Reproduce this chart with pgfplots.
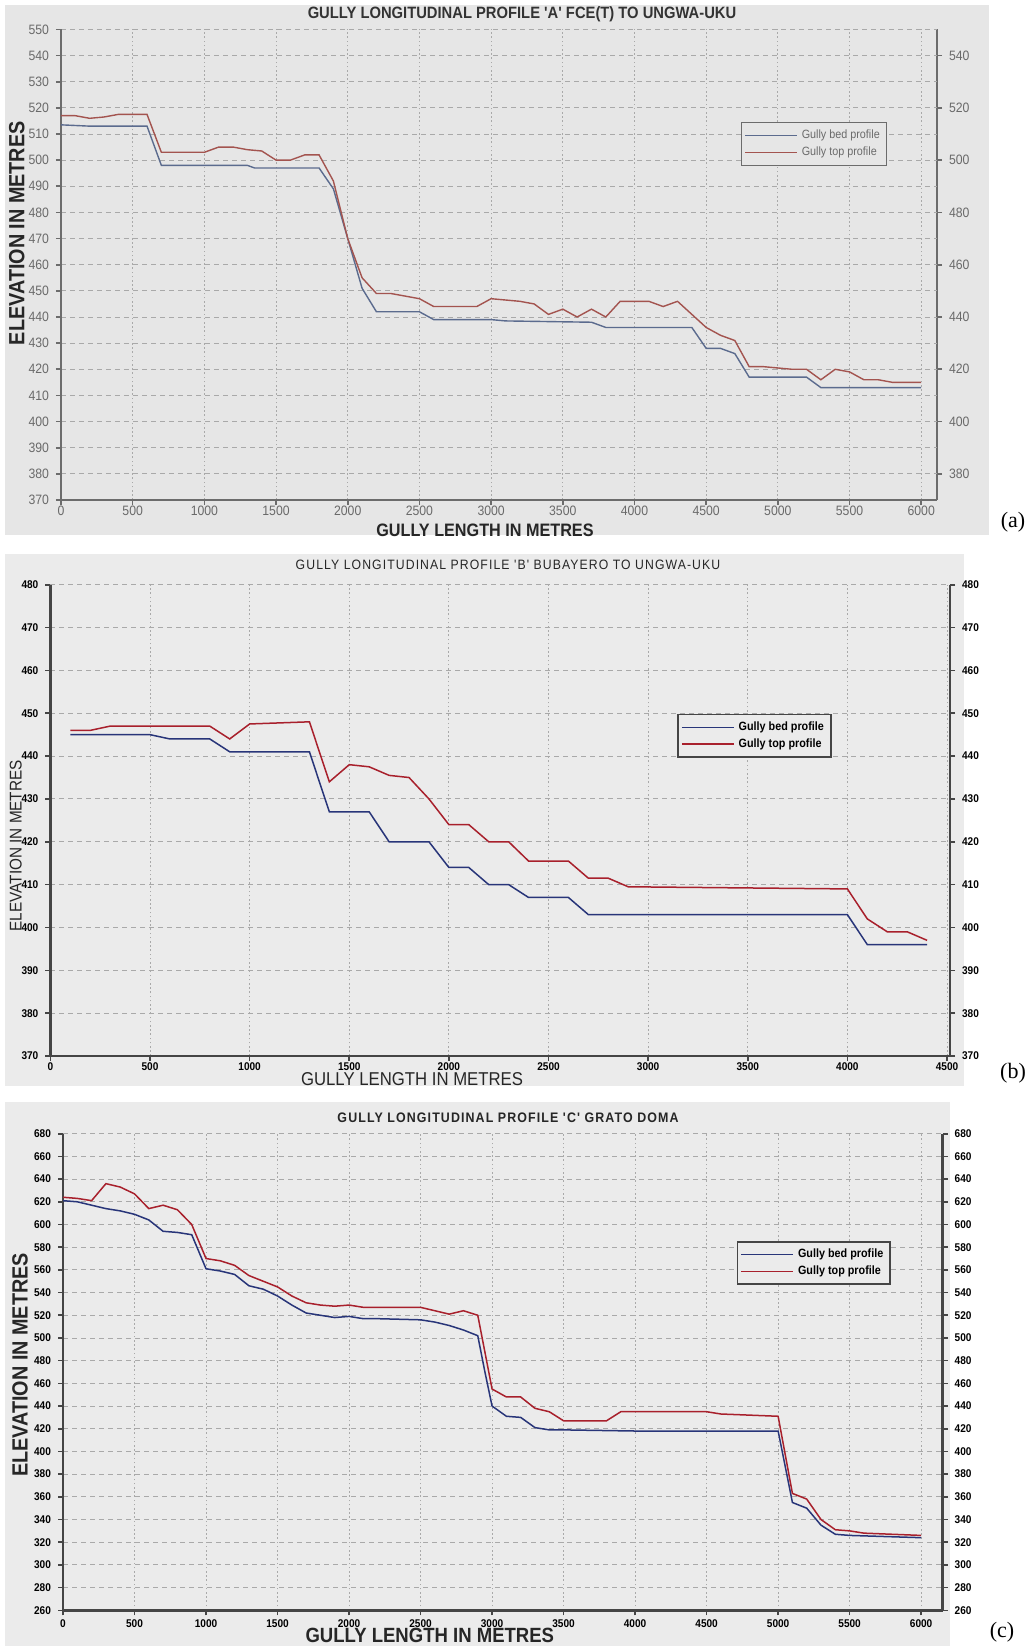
\documentclass[border=0pt]{standalone}
\usepackage{fontspec}
\usepackage{pgfplots}
\pgfplotsset{compat=1.18}
\newfontfamily\nar[FakeStretch=0.9]{Liberation Sans}
\newfontfamily\spaced[LetterSpace=8,FakeStretch=0.9]{Liberation Sans}
\newfontfamily\serif{Liberation Serif}
\definecolor{bga}{HTML}{E6E6E6}
\definecolor{bgb}{HTML}{EBEBEB}
\definecolor{gridc}{HTML}{A9A9A9}
\definecolor{bedA}{HTML}{5B6B8E}
\definecolor{topA}{HTML}{A3544F}
\definecolor{bedB}{HTML}{283579}
\definecolor{topB}{HTML}{A8202C}
\definecolor{axA}{HTML}{6C6C6C}
\definecolor{axB}{HTML}{454545}
\definecolor{txtA}{HTML}{6A6A6A}
\pgfplotsset{
  common/.style={scale only axis, anchor=north west, tick align=outside,
    major tick length=2.5pt,
    /pgf/number format/assume math mode=true,
    /pgf/number format/1000 sep={},
    axis x line*=bottom},
  rightax/.style={common, axis y line*=right, xticklabels={}, xtick style={draw=none},
    xmajorgrids, grid style={gridc, line width=0.45pt, dash pattern=on 0.8pt off 1.3pt}},
  mainax/.style={common, axis y line*=left, ymajorgrids,
    grid style={gridc, line width=0.45pt, dash pattern=on 2.5pt off 2pt},
    legend cell align=left,
    legend image code/.code={\draw[##1] (0pt,0pt) -- (26pt,0pt);}},
  styA/.style={axis line style={axA, line width=1pt}, tick style={axA, line width=0.8pt},
    tick label style={font=\nar\fontsize{6.8}{7}\selectfont, text=txtA},
    xticklabel style={yshift=3pt}},
  styB/.style={axis line style={axB, line width=1.4pt}, tick style={axB, line width=0.8pt},
    tick label style={font=\nar\bfseries\fontsize{5.6}{6}\selectfont, text=black}},
}
\begin{document}
\begin{tikzpicture}
\path[use as bounding box] (0,0) rectangle (517.5pt,-823pt);
\fill[bga] (2.5pt,-2.5pt) rectangle (494.5pt,-267.5pt);
\fill[bgb] (2.5pt,-277pt) rectangle (482pt,-543pt);
\fill[bgb] (2.5pt,-551pt) rectangle (475pt,-823pt);

% ---------------- Panel A ----------------
\begin{axis}[rightax, styA, at={(30.5pt,-14.7pt)}, width=438pt, height=235.3pt,
  xmin=0, xmax=6110, ymin=370, ymax=550,
  xtick={0,500,...,6000}, ytick={380,400,...,540}]
\end{axis}
\begin{axis}[mainax, styA, at={(30.5pt,-14.7pt)}, width=438pt, height=235.3pt,
  xmin=0, xmax=6110, ymin=370, ymax=550,
  xtick={0,500,...,6000}, ytick={370,380,...,550},
  xlabel={GULLY LENGTH IN METRES}, ylabel={ELEVATION IN METRES},
  xlabel style={at={(axis description cs:0.484,-0.064)}, anchor=center,
    font=\nar\bfseries\fontsize{9}{10}\selectfont, text=black!85},
  ylabel style={at={(axis description cs:-0.0505,0.567)}, anchor=center,
    font=\nar\bfseries\fontsize{11}{12}\selectfont, text=black!85},
  legend style={at={(0.776,0.803)}, anchor=north west, draw=axA, line width=0.6pt,
    fill=bga, font=\nar\fontsize{6}{7}\selectfont, text=txtA, inner sep=1.5pt,
    row sep=-1.5pt}]
\addplot[bedA, line width=0.7pt] coordinates {
(0,513.5)(200,513)(600,513)(700,498)(1300,498)(1350,497)(1800,497)(1900,489)
(2000,470)(2100,451)(2200,442)(2500,442)(2600,439)(3000,439)(3100,438.5)
(3700,438)(3800,436)(4400,436)(4500,428)(4600,428)(4700,426)(4800,417)
(5200,417)(5300,413)(6000,413)};
\addlegendentry{Gully bed profile}
\addplot[topA, line width=0.7pt] coordinates {
(0,517)(100,517)(200,516)(300,516.5)(400,517.5)(600,517.5)(700,503)(1000,503)
(1100,505)(1200,505)(1300,504)(1400,503.5)(1500,500)(1600,500)(1700,502)
(1800,502)(1900,492)(2000,470)(2100,455)(2200,449)(2300,449)(2400,448)
(2500,447)(2600,444)(2900,444)(3000,447)(3100,446.5)(3200,446)(3300,445)
(3400,441)(3500,443)(3600,440)(3700,443)(3800,440)(3900,446)(4100,446)
(4200,444)(4300,446)(4400,441)(4500,436)(4600,433)(4700,431)(4800,421)
(4900,421)(5000,420.5)(5100,420)(5200,420)(5300,416)(5400,420)(5500,419)
(5600,416)(5700,416)(5800,415)(6000,415)};
\addlegendentry{Gully top profile}
\end{axis}
\node[font=\nar\bfseries\fontsize{8.2}{9}\selectfont, text=black!80] at (261pt,-7pt)
  {GULLY LONGITUDINAL PROFILE 'A' FCE(T) TO UNGWA-UKU};
\node[font=\serif\fontsize{11}{12}\selectfont] at (506.5pt,-261pt) {(a)};

% ---------------- Panel B ----------------
\begin{axis}[rightax, styB, xticklabel style={yshift=2.5pt}, at={(25.2pt,-292.35pt)}, width=449.8pt, height=235.65pt,
  xmin=0, xmax=4515, ymin=370, ymax=480,
  xtick={0,500,...,4500}, ytick={370,380,...,480}]
\end{axis}
\begin{axis}[mainax, styB, xticklabel style={yshift=2.5pt}, at={(25.2pt,-292.35pt)}, width=449.8pt, height=235.65pt,
  xmin=0, xmax=4515, ymin=370, ymax=480,
  xtick={0,500,...,4500}, ytick={370,380,...,480},
  xlabel={GULLY LENGTH IN METRES}, ylabel={ELEVATION IN METRES},
  xlabel style={at={(axis description cs:0.402,-0.048)}, anchor=center,
    font=\nar\fontsize{9.3}{10}\selectfont, text=black!85},
  ylabel style={at={(axis description cs:-0.0386,0.446)}, anchor=center,
    font=\nar\fontsize{8.5}{10}\selectfont, text=black!85},
  legend style={at={(0.697,0.726)}, anchor=north west, draw=axB, line width=0.8pt,
    fill=bgb, font=\nar\bfseries\fontsize{6}{7}\selectfont, inner sep=1.5pt,
    row sep=-1.5pt}]
\addplot[bedB, line width=0.75pt] coordinates {
(100,445)(500,445)(600,444)(800,444)(900,441)(1300,441)(1400,427)(1600,427)
(1700,420)(1900,420)(2000,414)(2100,414)(2200,410)(2300,410)(2400,407)
(2600,407)(2700,403)(4000,403)(4100,396)(4400,396)};
\addlegendentry{Gully bed profile}
\addplot[topB, line width=0.75pt] coordinates {
(100,446)(200,446)(300,447)(800,447)(900,444)(1000,447.5)(1300,448)(1400,434)
(1500,438)(1600,437.5)(1700,435.5)(1800,435)(1900,430)(2000,424)(2100,424)
(2200,420)(2300,420)(2400,415.5)(2600,415.5)(2700,411.5)(2800,411.5)
(2900,409.5)(4000,409)(4100,402)(4200,399)(4300,399)(4400,397)};
\addlegendentry{Gully top profile}
\end{axis}
\node[font=\spaced\fontsize{6.8}{7}\selectfont, text=black!85] at (254pt,-282.5pt)
  {GULLY LONGITUDINAL PROFILE 'B' BUBAYERO TO UNGWA-UKU};
\node[font=\serif\fontsize{11}{12}\selectfont] at (506.5pt,-536.5pt) {(b)};

% ---------------- Panel C ----------------
\begin{axis}[rightax, styB, xticklabel style={yshift=1.5pt}, at={(31.5pt,-566.85pt)}, width=439.8pt, height=238.3pt,
  xmin=0, xmax=6150, ymin=260, ymax=680,
  xtick={0,500,...,6000}, ytick={260,280,...,680}]
\end{axis}
\begin{axis}[mainax, styB, xticklabel style={yshift=1.5pt}, at={(31.5pt,-566.85pt)}, width=439.8pt, height=238.3pt,
  xmin=0, xmax=6150, ymin=260, ymax=680,
  xtick={0,500,...,6000}, ytick={260,280,...,680},
  xlabel={GULLY LENGTH IN METRES}, ylabel={ELEVATION IN METRES},
  xlabel style={at={(axis description cs:0.417,-0.053)}, anchor=center,
    font=\nar\bfseries\fontsize{10.3}{11}\selectfont, text=black!85},
  ylabel style={at={(axis description cs:-0.0489,0.515)}, anchor=center,
    font=\nar\bfseries\fontsize{11}{12}\selectfont, text=black!85},
  legend style={at={(0.766,0.775)}, anchor=north west, draw=axB, line width=0.8pt,
    fill=bgb, font=\nar\bfseries\fontsize{6}{7}\selectfont, inner sep=1.5pt,
    row sep=-1.5pt}]
\addplot[bedB, line width=0.75pt] coordinates {
(0,621)(100,620)(200,617)(300,614)(400,612)(500,609)(600,604)(700,594)(800,593)
(900,591)(1000,561)(1100,559)(1200,556)(1300,546)(1400,543)(1500,537)(1600,529)
(1700,522)(1800,520)(1900,518)(2000,519)(2100,517)(2200,517)(2500,516)(2600,514)
(2700,511)(2800,507)(2900,502)(2950,470)(3000,440)(3100,431)(3200,430)(3300,421)
(3400,419)(3500,419)(4000,418)(5000,418)(5100,355)(5200,350)(5300,335)(5400,327)
(5500,326)(6000,324)};
\addlegendentry{Gully bed profile}
\addplot[topB, line width=0.75pt] coordinates {
(0,624)(100,623)(200,621)(300,636)(400,633)(500,627)(600,614)(700,617)(800,613)
(900,600)(1000,570)(1100,568)(1200,564)(1300,555)(1400,550)(1500,545)(1600,537)
(1700,531)(1800,529)(1900,528)(2000,529)(2100,527)(2500,527)(2600,524)(2700,521)
(2800,524)(2900,520)(3000,455)(3100,448)(3200,448)(3300,438)(3400,435)(3500,427)
(3800,427)(3900,435)(4500,435)(4600,433)(5000,431)(5100,363)(5200,358)(5300,340)
(5400,331)(5500,330)(5600,328)(6000,326)};
\addlegendentry{Gully top profile}
\end{axis}
\node[font=\spaced\bfseries\fontsize{6.9}{7}\selectfont, text=black!85] at (254pt,-559pt)
  {GULLY LONGITUDINAL PROFILE 'C' GRATO DOMA};
\node[font=\serif\fontsize{11}{12}\selectfont] at (501pt,-816pt) {(c)};
\end{tikzpicture}
\end{document}
